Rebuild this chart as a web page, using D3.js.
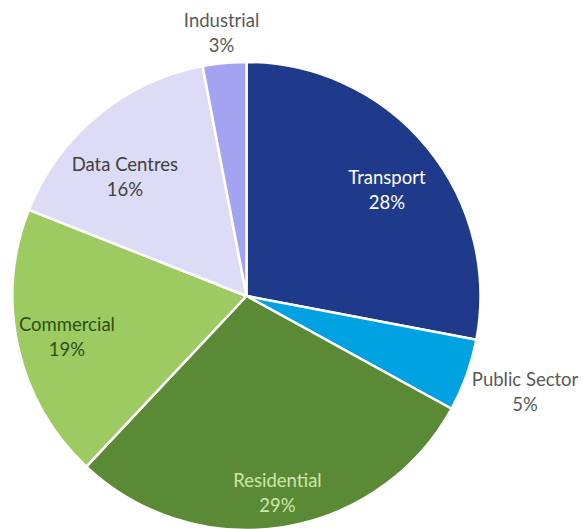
<!DOCTYPE html>
<html>
<head>
<meta charset="utf-8">
<script src="https://cdn.jsdelivr.net/npm/d3@7"></script>
<style>
  html, body { margin: 0; padding: 0; background: #ffffff; }
  svg { display: block; }
</style>
</head>
<body>
<svg id="chart" width="583" height="529"></svg>
<script>
const categories = ["Transport", "Public Sector", "Residential", "Commercial", "Data Centres", "Industrial"];
const values = [28, 5, 29, 19, 16, 3];
const colors = ["#1f3a8a", "#00a2e1", "#5b8a36", "#9dcb62", "#dcdcf6", "#a3a3f2"];
const labelColors = ["#ffffff", "#595959", "#cde6ad", "#2f4f14", "#404040", "#595959"];

// label placement (polar, relative to pie centre): radius in px, angle in degrees clockwise from top
const labelLayout = {
  radius: [176.6, 294.3, 198, 184, 170.8, 265],
  angle:  [52.7, 108.8, null, null, 314.6, null]
};

const width = 583, height = 529;
const cx = 246.5, cy = 296, r = 234;

const svg = d3.select("#chart");
const g = svg.append("g").attr("transform", `translate(${cx},${cy})`);

const data = categories.map((c, i) => ({ name: c, value: values[i], i }));
const pie = d3.pie().value(d => d.value).sort(null);
const arcs = pie(data);
const arc = d3.arc().innerRadius(0).outerRadius(r);

g.selectAll("path.slice")
  .data(arcs)
  .join("path")
  .attr("class", "slice")
  .attr("d", arc)
  .attr("fill", d => colors[d.data.i])
  .attr("stroke", "#ffffff")
  .attr("stroke-width", 2.5)
  .attr("stroke-linejoin", "round");

const labels = g.selectAll("text.lbl")
  .data(arcs)
  .join("text")
  .attr("class", "lbl")
  .attr("transform", d => {
    const i = d.data.i;
    const a = labelLayout.angle[i] != null ? labelLayout.angle[i] * Math.PI / 180 : (d.startAngle + d.endAngle) / 2;
    const lr = labelLayout.radius[i];
    return `translate(${lr * Math.sin(a)},${-lr * Math.cos(a)})`;
  })
  .attr("text-anchor", "middle")
  .attr("font-family", "Lato, 'Noto Sans', sans-serif")
  .attr("font-size", 18.5)
  .attr("fill", d => labelColors[d.data.i]);

labels.append("tspan").attr("x", 0).attr("y", -5).text(d => d.data.name);
labels.append("tspan").attr("x", 0).attr("y", 20).text(d => d.data.value + "%");
</script>
</body>
</html>
